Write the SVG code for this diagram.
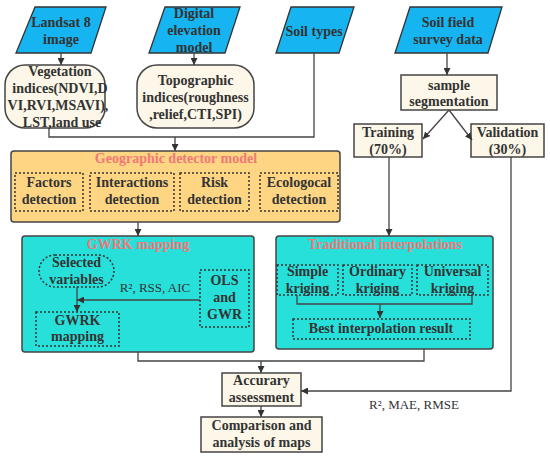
<svg xmlns="http://www.w3.org/2000/svg" width="550" height="456" viewBox="0 0 550 456" font-family="'Liberation Serif', 'Times New Roman', 'DejaVu Serif', serif">
<style>
text{font-family:'Liberation Serif','Times New Roman','DejaVu Serif',serif;font-size:14px;font-weight:bold;fill:#333;text-anchor:middle}
.ttl{fill:#f27878}
.reg{font-weight:normal;font-size:13px}
.para{fill:#16b4f0;stroke:#333;stroke-width:1.3}
.cream{fill:#fcf7e8;stroke:#444;stroke-width:1.5}
.dot{fill:none;stroke:#333;stroke-width:1.5;stroke-dasharray:2 2}
.ln{fill:none;stroke:#444;stroke-width:1.3}
</style>
<defs>
<marker id="ah" viewBox="0 0 10 10" refX="10" refY="5" markerWidth="7" markerHeight="7" markerUnits="userSpaceOnUse" orient="auto"><path d="M0,0 L10,5 L0,10 z" fill="#333"/></marker>
</defs>
<rect width="550" height="456" fill="#fff"/>

<g id="landsat"><polygon class="para" points="35,7 106,7 91,53 16,53"/><text x="61" y="27">Landsat 8</text><text x="61" y="44">image</text></g>
<g id="dem"><polygon class="para" points="165,7 240,7 225,53 149,53"/><text x="194" y="18">Digital</text><text x="194" y="35">elevation</text><text x="194" y="52">model</text></g>
<g id="soiltypes"><polygon class="para" points="291,7 354,7 339,53 276,53"/><text x="314" y="36">Soil types</text></g>
<g id="soilfield"><polygon class="para" points="410,7 502,7 488,53 395,53"/><text x="448" y="27">Soil field</text><text x="448" y="44">survey data</text></g>

<g id="veg"><rect class="cream" x="5" y="65" width="100" height="63" rx="20"/><text x="60" y="76">Vegetation</text><text x="60" y="93">indices(NDVI,D</text><text x="58" y="110">VI,RVI,MSAVI),</text><text x="62" y="127">LST,land use</text></g>
<g id="topo"><rect class="cream" x="137" y="65" width="117" height="63" rx="20"/><text x="195.5" y="85">Topographic</text><text x="195.5" y="102">indices(roughness</text><text x="195.5" y="119">,relief,CTI,SPI)</text></g>

<g id="sample"><rect class="cream" x="401" y="75" width="96" height="35"/><text x="449" y="90">sample</text><text x="449" y="106">segmentation</text></g>
<g id="training"><rect class="cream" x="354" y="124" width="68" height="33"/><text x="388" y="137">Training</text><text x="388" y="154">(70%)</text></g>
<g id="validation"><rect class="cream" x="471" y="124" width="73" height="33"/><text x="507.5" y="137">Validation</text><text x="507.5" y="154">(30%)</text></g>

<g id="geodetector">
<rect x="11" y="151" width="329" height="71" rx="3" fill="#fdd583" stroke="#444" stroke-width="1.5"/>
<text class="ttl" x="176" y="163">Geographic detector model</text>
<rect class="dot" x="15" y="173" width="68" height="38"/><text x="49" y="187">Factors</text><text x="49" y="204">detection</text>
<rect class="dot" x="90" y="173" width="84" height="38"/><text x="132" y="187">Interactions</text><text x="132" y="204">detection</text>
<rect class="dot" x="180" y="173" width="69" height="38"/><text x="214.5" y="187">Risk</text><text x="214.5" y="204">detection</text>
<rect class="dot" x="260" y="173" width="78" height="38"/><text x="299" y="187">Ecologocal</text><text x="299" y="204">detection</text>
</g>

<g id="gwrk">
<rect x="22" y="236" width="232" height="116" rx="3" fill="#28e0da" stroke="#444" stroke-width="1.5"/>
<text class="ttl" x="138" y="249">GWRK mapping</text>
<rect class="dot" x="39" y="255" width="75" height="32" rx="16"/><text x="76.5" y="267">Selected</text><text x="76.5" y="284">variables</text>
<rect class="dot" x="200" y="270" width="49" height="57"/><text x="224.5" y="285">OLS</text><text x="224.5" y="302">and</text><text x="224.5" y="319">GWR</text>
<rect class="dot" x="36" y="312" width="83" height="34"/><text x="77.5" y="325">GWRK</text><text x="77.5" y="341">mapping</text>
<text class="reg" x="155" y="292">R², RSS, AIC</text>
<line class="ln" x1="77" y1="287" x2="77" y2="312" marker-end="url(#ah)"/>
<line class="ln" x1="200" y1="300" x2="77" y2="300" marker-end="url(#ah)"/>
</g>

<g id="traditional">
<rect x="276" y="236" width="217" height="113" rx="3" fill="#28e0da" stroke="#444" stroke-width="1.5"/>
<text class="ttl" x="385" y="249">Traditional interpolations</text>
<rect class="dot" x="277" y="265" width="61" height="30"/><text x="307.5" y="276">Simple</text><text x="307.5" y="293">kriging</text>
<rect class="dot" x="343" y="265" width="69" height="30"/><text x="377.5" y="276">Ordinary</text><text x="377.5" y="293">kriging</text>
<rect class="dot" x="417" y="265" width="71" height="30"/><text x="452.5" y="276">Universal</text><text x="452.5" y="293">kriging</text>
<rect class="dot" x="293" y="319" width="177" height="20"/><text x="381" y="333">Best interpolation result</text>
<polyline class="ln" points="297,295 297,304 472,304 472,295"/>
<line class="ln" x1="380" y1="304" x2="380" y2="318" marker-end="url(#ah)"/>
</g>

<g id="accuracy"><rect class="cream" x="222" y="373" width="79" height="33"/><text x="261.5" y="385">Accurary</text><text x="261.5" y="402">assessment</text></g>
<g id="comparison"><rect class="cream" x="201" y="417" width="121" height="35"/><text x="261.5" y="430">Comparison and</text><text x="261.5" y="447">analysis of maps</text></g>

<text class="reg" x="414" y="409">R², MAE, RMSE</text>

<g id="connectors">
<line class="ln" x1="61" y1="53" x2="61" y2="65" marker-end="url(#ah)"/>
<line class="ln" x1="194" y1="53" x2="194" y2="65" marker-end="url(#ah)"/>
<polyline class="ln" points="49,128 49,137 314,137 314,53"/>
<line class="ln" x1="175" y1="137" x2="175" y2="151" marker-end="url(#ah)"/>
<line class="ln" x1="447" y1="53" x2="447" y2="75" marker-end="url(#ah)"/>
<line class="ln" x1="449" y1="110" x2="423" y2="139" marker-end="url(#ah)"/>
<line class="ln" x1="449" y1="110" x2="472" y2="140" marker-end="url(#ah)"/>
<line class="ln" x1="389" y1="157" x2="389" y2="236" marker-end="url(#ah)"/>
<line class="ln" x1="138" y1="222" x2="138" y2="236" marker-end="url(#ah)"/>
<polyline class="ln" points="138,352 138,361 424,361 424,349"/>
<line class="ln" x1="261" y1="361" x2="261" y2="373" marker-end="url(#ah)"/>
<polyline class="ln" points="511,157 511,391 301,391" marker-end="url(#ah)"/>
<line class="ln" x1="261" y1="406" x2="261" y2="417" marker-end="url(#ah)"/>
</g>
</svg>
